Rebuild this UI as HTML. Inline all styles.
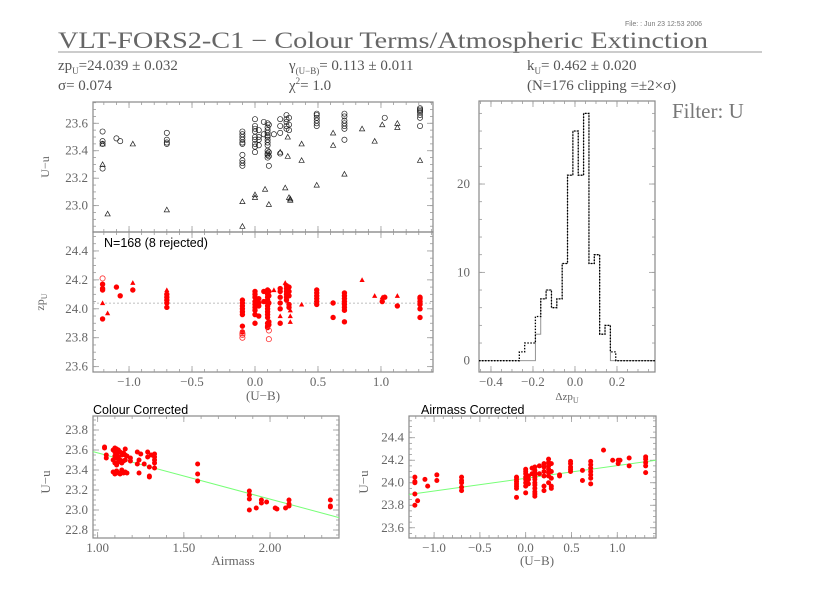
<!DOCTYPE html>
<html><head><meta charset="utf-8"><style>
body{margin:0;background:#fff;width:839px;height:591px;overflow:hidden}
</style></head><body>
<svg id="c" width="839" height="591" viewBox="0 0 839 591" xmlns="http://www.w3.org/2000/svg" font-family="Liberation Serif, serif">
<text x="625" y="26" font-size="7" fill="#777" font-family="Liberation Sans, sans-serif">File:   : Jun 23 12:53 2006</text>
<text x="58" y="48" font-size="23" fill="#666" textLength="650" lengthAdjust="spacingAndGlyphs">VLT-FORS2-C1 − Colour Terms/Atmospheric Extinction</text>
<line x1="58" y1="52" x2="762" y2="52" stroke="#999" stroke-width="1"/>
<g font-size="15" fill="#555">
<text x="58" y="70">zp<tspan font-size="9" dy="4">U</tspan><tspan dy="-4">=24.039 ± 0.032</tspan></text>
<text x="58" y="90">σ= 0.074</text>
<text x="289" y="70">γ<tspan font-size="9" dy="4">(U−B)</tspan><tspan dy="-4">= 0.113 ± 0.011</tspan></text>
<text x="289" y="90">χ<tspan font-size="9" dy="-6">2</tspan><tspan dy="6">=  1.0</tspan></text>
<text x="527" y="70">k<tspan font-size="9" dy="4">U</tspan><tspan dy="-4">= 0.462 ± 0.020</tspan></text>
<text x="527" y="90">(N=176 clipping =±2×σ)</text>
</g>
<text x="672" y="118" font-size="21" fill="#777">Filter: U</text>
</svg>
<script>
// ---- data ----
const topCircX=[-1.21,-1.21,-1.21,-1.21,-1.10,-1.07,-0.70,-0.70,-0.70,-0.70,-0.10,-0.10,-0.10,-0.10,-0.10,-0.10,-0.10,-0.10,-0.10,-0.10,0.00,0.00,0.00,0.00,0.00,0.00,0.00,0.00,0.00,0.03,0.03,0.03,0.03,0.07,0.07,0.10,0.10,0.10,0.10,0.10,0.10,0.10,0.10,0.10,0.10,0.10,0.10,0.10,0.11,0.11,0.11,0.11,0.15,0.20,0.20,0.20,0.20,0.25,0.25,0.25,0.25,0.25,0.27,0.27,0.27,0.49,0.49,0.49,0.49,0.49,0.49,0.71,0.71,0.71,0.71,0.71,0.71,0.71,1.03,1.31,1.31,1.31,1.31,1.31,1.31,1.31];
const topCircY=[23.54,23.47,23.45,23.27,23.49,23.47,23.53,23.48,23.46,23.45,23.54,23.52,23.50,23.48,23.46,23.45,23.37,23.33,23.31,23.29,23.63,23.58,23.56,23.54,23.50,23.48,23.45,23.43,23.39,23.55,23.50,23.48,23.44,23.61,23.52,23.60,23.57,23.55,23.53,23.51,23.50,23.48,23.46,23.44,23.40,23.38,23.37,23.35,23.59,23.39,23.36,23.29,23.52,23.63,23.58,23.53,23.38,23.66,23.63,23.61,23.58,23.56,23.64,23.59,23.55,23.67,23.66,23.64,23.62,23.60,23.58,23.67,23.65,23.62,23.60,23.58,23.56,23.48,23.64,23.71,23.70,23.69,23.68,23.66,23.64,23.58];
const topTriX=[-1.21,-1.21,-1.17,-0.97,-0.70,-0.10,-0.10,0.00,0.00,0.08,0.11,0.20,0.24,0.26,0.26,0.27,0.28,0.28,0.37,0.37,0.49,0.62,0.62,0.71,0.85,0.95,1.01,1.13,1.13,1.31];
const topTriY=[23.45,23.30,22.94,23.45,22.97,23.03,22.85,23.06,23.08,23.12,23.01,23.39,23.13,23.50,23.36,23.06,23.05,23.04,23.45,23.33,23.15,23.53,23.44,23.23,23.56,23.47,23.59,23.60,23.57,23.33];
const zpCircX=[-1.21,-1.21,-1.21,-1.21,-1.10,-1.07,-0.97,-0.70,-0.70,-0.70,-0.70,-0.70,-0.10,-0.10,-0.10,-0.10,-0.10,-0.10,-0.10,-0.10,0.00,0.00,0.00,0.00,0.00,0.00,0.00,0.00,0.00,0.03,0.03,0.03,0.03,0.07,0.07,0.10,0.10,0.10,0.10,0.10,0.10,0.10,0.10,0.10,0.10,0.10,0.10,0.10,0.11,0.11,0.11,0.11,0.11,0.20,0.20,0.20,0.20,0.20,0.20,0.25,0.25,0.25,0.25,0.25,0.25,0.27,0.27,0.27,0.27,0.27,0.49,0.49,0.49,0.49,0.49,0.49,0.62,0.62,0.71,0.71,0.71,0.71,0.71,0.71,0.71,0.71,1.01,1.03,1.13,1.31,1.31,1.31,1.31,1.31,1.31];
const zpCircY=[24.17,24.14,24.13,23.93,24.15,24.09,24.13,24.10,24.08,24.06,24.04,24.01,24.06,24.04,24.02,24.00,23.98,23.96,23.88,23.84,24.12,24.10,24.08,24.05,24.03,24.01,23.99,23.96,23.90,24.07,24.04,24.02,23.95,24.12,24.05,24.13,24.10,24.08,24.06,24.04,24.02,24.00,23.98,23.96,23.94,23.90,23.88,23.87,24.12,24.09,24.04,23.91,23.89,24.14,24.12,24.08,24.04,24.00,23.90,24.16,24.14,24.12,24.10,24.08,24.06,24.15,24.12,24.09,24.03,24.01,24.13,24.11,24.09,24.07,24.05,24.03,24.04,23.94,24.11,24.09,24.07,24.05,24.03,24.01,23.99,23.91,24.05,24.08,24.02,24.08,24.07,24.05,24.03,24.00,23.94];
const zpTriX=[-1.21,-1.17,-0.97,-0.70,0.15,0.20,0.24,0.28,0.28,0.28,0.37,0.85,0.95,1.01,1.13];
const zpTriY=[24.04,23.97,24.18,24.13,24.13,23.95,24.18,23.99,23.95,23.91,24.03,24.20,24.09,24.08,24.09];
const rejX=[-1.21,-0.10,-0.10,-0.10,0.11,0.11];
const rejY=[24.21,23.83,23.82,23.80,23.85,23.79];
const zpMean=24.039;
const histEdgeStart=-0.265, histBinWidth=0.0255;
const histAll=[1,2,2,5,7,8,6,7,11,21,26,21,28,11,12,3,4,1];
const histKept=[0,0,0,3,7,8,6,7,11,21,26,21,28,11,12,3,4,0];
const amX=[1.04,1.04,1.05,1.05,1.09,1.09,1.09,1.10,1.10,1.10,1.10,1.10,1.11,1.11,1.11,1.11,1.11,1.12,1.12,1.12,1.12,1.13,1.13,1.13,1.14,1.14,1.14,1.15,1.15,1.15,1.16,1.16,1.16,1.16,1.17,1.17,1.19,1.19,1.23,1.23,1.24,1.24,1.25,1.27,1.29,1.29,1.30,1.30,1.30,1.31,1.33,1.33,1.33,1.33,1.33,1.58,1.58,1.58,1.88,1.88,1.88,1.88,1.92,1.95,1.95,1.98,2.03,2.04,2.09,2.11,2.11,2.11,2.35,2.35,2.35];
const amY=[23.63,23.62,23.55,23.52,23.60,23.50,23.38,23.62,23.58,23.54,23.47,23.36,23.61,23.56,23.52,23.45,23.39,23.60,23.53,23.48,23.37,23.58,23.50,23.36,23.55,23.47,23.40,23.57,23.49,23.37,23.61,23.55,23.50,23.38,23.54,23.37,23.52,23.49,23.58,23.46,23.50,23.37,23.56,23.46,23.58,23.53,23.43,23.34,23.33,23.55,23.56,23.53,23.50,23.47,23.42,23.46,23.36,23.29,23.19,23.15,23.11,23.00,23.02,23.10,23.07,23.08,23.02,23.01,23.02,23.10,23.06,23.04,23.10,23.04,23.03];
const kExt=0.462, amZero=24.033;
const acX=[-1.21,-1.21,-1.21,-1.21,-1.21,-1.18,-1.10,-1.07,-0.97,-0.97,-0.70,-0.70,-0.70,-0.70,-0.70,-0.10,-0.10,-0.10,-0.10,-0.10,-0.10,-0.10,0.00,0.00,0.00,0.00,0.00,0.00,0.00,0.00,0.03,0.03,0.03,0.07,0.07,0.10,0.10,0.10,0.10,0.10,0.10,0.10,0.10,0.10,0.10,0.10,0.10,0.15,0.15,0.20,0.20,0.20,0.20,0.20,0.20,0.25,0.25,0.25,0.25,0.25,0.25,0.25,0.28,0.28,0.28,0.28,0.28,0.37,0.37,0.49,0.49,0.49,0.49,0.49,0.62,0.62,0.71,0.71,0.71,0.71,0.71,0.71,0.71,0.85,0.95,1.01,1.01,1.03,1.13,1.13,1.31,1.31,1.31,1.31,1.31];
const acY=[24.05,24.01,24.00,23.90,23.80,23.84,24.03,23.97,24.07,24.02,24.05,24.02,24.00,23.96,23.93,24.05,24.03,24.01,23.99,23.97,23.95,23.87,24.12,24.10,24.08,24.05,24.03,24.00,23.97,23.91,24.06,24.03,23.99,24.13,24.08,24.14,24.11,24.09,24.07,24.05,24.03,24.00,23.98,23.95,23.92,23.90,23.88,24.15,24.08,24.17,24.14,24.10,24.06,23.97,23.93,24.21,24.18,24.15,24.12,24.09,24.06,24.00,24.17,24.10,24.04,23.97,23.95,24.07,24.06,24.19,24.17,24.14,24.12,24.10,24.11,24.02,24.19,24.16,24.13,24.10,24.07,24.04,23.99,24.29,24.20,24.20,24.17,24.20,24.22,24.15,24.23,24.21,24.18,24.15,24.09];
const gammaCol=0.113;
const ubTicks=[-1.0,-0.5,0.0,0.5,1.0];
const ubTickLabels=["−1.0","−0.5","0.0","0.5","1.0"];
const uuTicks=[23.0,23.2,23.4,23.6];
const zpTicks=[23.6,23.8,24.0,24.2,24.4];
const histXTicks=[-0.4,-0.2,0.0,0.2];
const histXLabels=["−0.4","−0.2","0.0","0.2"];
const histYTicks=[0,10,20];
const amTicks=[1.0,1.5,2.0];
const amTickLabels=["1.00","1.50","2.00"];
const ccTicks=[22.8,23.0,23.2,23.4,23.6,23.8];
const acTicks=[23.6,23.8,24.0,24.2,24.4];

const svg=document.getElementById('c');
const NS='http://www.w3.org/2000/svg';
function mk(tag,attrs,parent){const e=document.createElementNS(NS,tag);for(const k in attrs)e.setAttribute(k,attrs[k]);(parent||svg).appendChild(e);return e;}
function scale(d0,d1,r0,r1){return v=>r0+(v-d0)/(d1-d0)*(r1-r0);}

function panel(name,x0,x1,y0,y1,xd,yd,xmaj,xmin,ymaj,ymin){
  const g=mk('g',{});
  
  
  const sx=scale(xd[0],xd[1],x0,x1), sy=scale(yd[0],yd[1],y1,y0);
  const f=mk('rect',{x:x0,y:y0,width:x1-x0,height:y1-y0,fill:'none',stroke:'#888','stroke-width':1.2},g);
  
  
  const tg=mk('g',{stroke:'#999','stroke-width':0.8},g);
  
  
  const ticks=(lo,hi,step,len,isX)=>{const s=Math.ceil(lo/step-1e-6);for(let i=s;i*step<=hi+1e-9;i++){const v=i*step;
    if(isX){const p=sx(v);mk('line',{x1:p,x2:p,y1:y1,y2:y1-len},tg);mk('line',{x1:p,x2:p,y1:y0,y2:y0+len},tg);}
    else{const p=sy(v);mk('line',{x1:x0,x2:x0+len,y1:p,y2:p},tg);mk('line',{x1:x1,x2:x1-len,y1:p,y2:p},tg);}}};
  ticks(xd[0],xd[1],xmaj,6,true);ticks(xd[0],xd[1],xmin,3,true);
  ticks(yd[0],yd[1],ymaj,6,false);ticks(yd[0],yd[1],ymin,3,false);
  return {g,sx,sy};
}
function xLabels(p,vals,labels,y,name){vals.forEach((v,i)=>{const t=mk('text',{x:p.sx(v),y:y,'font-size':13,fill:'#666','text-anchor':'middle'},p.g);t.textContent=labels[i];
  
  });}
function yLabels(p,vals,x,dec,name){vals.forEach(v=>{const t=mk('text',{x:x,y:p.sy(v)+4,'font-size':13,fill:'#666','text-anchor':'end'},p.g);t.textContent=v.toFixed(dec);
  
  });}
function circ(p,X,Y,opt,name){X.forEach((x,i)=>{const c=mk('circle',Object.assign({cx:p.sx(x),cy:p.sy(Y[i])},opt),p.g);
  
  });}
function tri(p,X,Y,opt,name){X.forEach((x,i)=>{const cx=p.sx(x),cy=p.sy(Y[i]);const s=2.6;
  const t=mk('polygon',Object.assign({points:`${cx},${cy-s} ${cx-s},${cy+s*0.8} ${cx+s},${cy+s*0.8}`},opt),p.g);
  
  });}
function label(txt,x,y,size,fill,rot,name,anchor,sans){const t=mk('text',{x:x,y:y,'font-size':size,fill:fill,'text-anchor':anchor||'middle'});
  if(sans)t.setAttribute('font-family','Liberation Sans, sans-serif');
  if(rot)t.setAttribute('transform',`rotate(-90 ${x} ${y})`);t.innerHTML=txt;
  
  return t;}

// top panel
const pTop=panel('colour-raw-panel',93,433,102,232,[-1.286,1.413],[22.808,23.755],0.5,0.1,0.2,0.05);
yLabels(pTop,uuTicks,88,1,'top-y');
circ(pTop,topCircX,topCircY,{r:2.6,fill:'none',stroke:'#222','stroke-width':0.7},'raw-circle-point');
tri(pTop,topTriX,topTriY,{fill:'none',stroke:'#222','stroke-width':0.7},'raw-triangle-point');
label('U−u',49,167,12,'#666',true,'top-y-axis-title');
// zp panel
const pZp=panel('zeropoint-panel',93,433,232,372,[-1.286,1.413],[23.563,24.531],0.5,0.1,0.2,0.05);
yLabels(pZp,zpTicks,88,1,'zp-y');
xLabels(pZp,ubTicks,ubTickLabels,386,'zp-x');
const ml=mk('line',{x1:93,x2:433,y1:pZp.sy(zpMean),y2:pZp.sy(zpMean),stroke:'#aaa','stroke-width':0.8,'stroke-dasharray':'2,2'},pZp.g);


circ(pZp,zpCircX,zpCircY,{r:2.7,fill:'#f00'},'zp-circle-point');
tri(pZp,zpTriX,zpTriY,{fill:'#f00'},'zp-triangle-point');
circ(pZp,rejX,rejY,{r:2.6,fill:'none',stroke:'#f33','stroke-width':0.8},'rejected-point');
label('N=168 (8 rejected)',104,247,12.5,'#000',false,'n-rejected-note','start',true);
label('zp<tspan font-size="8" dy="3">U</tspan>',44,302,12,'#666',true,'zp-y-axis-title');
label('(U−B)',263,400,13,'#666',false,'zp-x-axis-title');
// histogram
const pH=panel('residual-histogram',479,655,101,372,[-0.457,0.381],[-1.28,29.4],0.2,0.05,10,2);
yLabels(pH,histYTicks,470,0,'hist-y');
xLabels(pH,histXTicks,histXLabels,386,'hist-x');
function stepPath(counts){let d=`M479,${pH.sy(0)} L${pH.sx(histEdgeStart)},${pH.sy(0)}`;
  counts.forEach((c,i)=>{const a=histEdgeStart+i*histBinWidth;d+=` L${pH.sx(a)},${pH.sy(c)} L${pH.sx(a+histBinWidth)},${pH.sy(c)}`;});
  d+=` L${pH.sx(histEdgeStart+counts.length*histBinWidth)},${pH.sy(0)} L655,${pH.sy(0)}`;return d;}
const hk=mk('path',{d:stepPath(histKept),fill:'none',stroke:'#888','stroke-width':0.9},pH.g);


const ha=mk('path',{d:stepPath(histAll),fill:'none',stroke:'#000','stroke-width':1.3,'stroke-dasharray':'1.5,1.5'},pH.g);


label('Δzp<tspan font-size="8" dy="3">U</tspan>',567,400,11,'#666',false,'hist-x-axis-title');
// colour corrected
const pCC=panel('colour-corrected-panel',93,339,416,538,[0.973,2.4],[22.72,23.94],0.5,0.1,0.2,0.05);
yLabels(pCC,ccTicks,88,1,'cc-y');
xLabels(pCC,amTicks,amTickLabels,552,'cc-x');
const fl=mk('line',{x1:pCC.sx(0.973),y1:pCC.sy(amZero-kExt*0.973),x2:pCC.sx(2.4),y2:pCC.sy(amZero-kExt*2.4),stroke:'#7f7','stroke-width':1},pCC.g);


circ(pCC,amX,amY,{r:2.5,fill:'#f00'},'airmass-point');
label('Colour Corrected',93,414,12.5,'#000',false,'colour-corrected-title','start',true);
label('U−u',50,482,13,'#666',true,'cc-y-axis-title');
label('Airmass',233,565,13,'#666',false,'cc-x-axis-title');
// airmass corrected
const pAC=panel('airmass-corrected-panel',409,656,416,538,[-1.274,1.423],[23.509,24.593],0.5,0.1,0.2,0.05);
yLabels(pAC,acTicks,404,1,'ac-y');
xLabels(pAC,ubTicks,ubTickLabels,552,'ac-x');
const cl=mk('line',{x1:409,y1:pAC.sy(zpMean+gammaCol*-1.274),x2:656,y2:pAC.sy(zpMean+gammaCol*1.423),stroke:'#7f7','stroke-width':1},pAC.g);


circ(pAC,acX,acY,{r:2.5,fill:'#f00'},'colour-point');
label('Airmass Corrected',421,414,12.5,'#000',false,'airmass-corrected-title','start',true);
label('U−u',368,482,13,'#666',true,'ac-y-axis-title');
label('(U−B)',537,565,13,'#666',false,'ac-x-axis-title');
</script>
</body></html>
